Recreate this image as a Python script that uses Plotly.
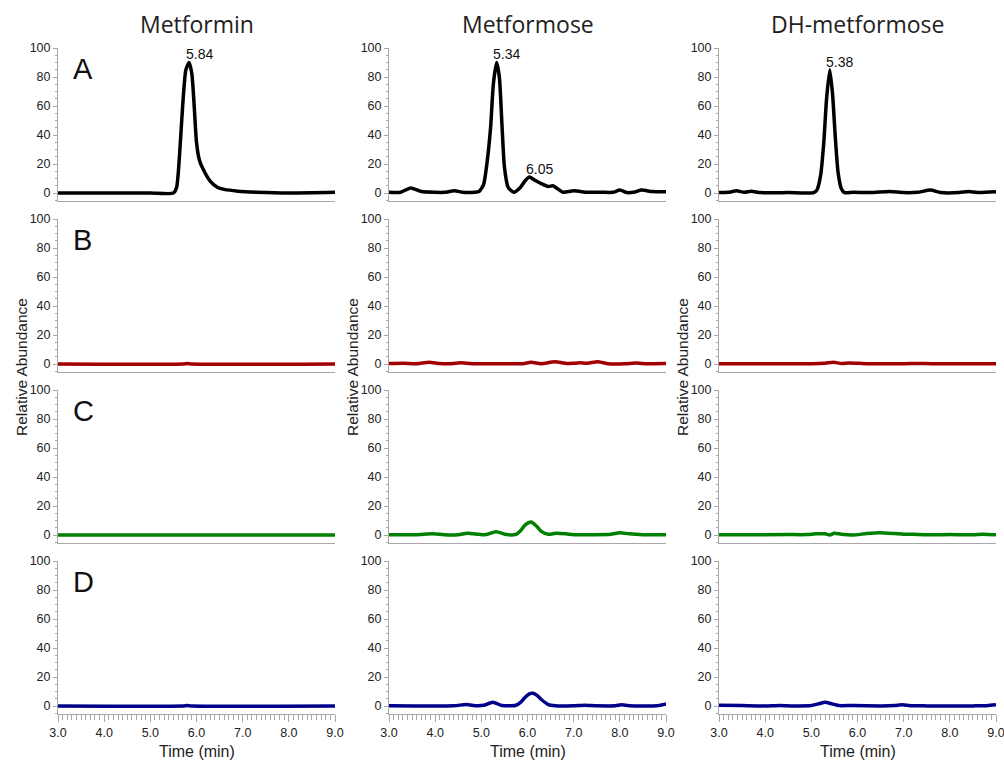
import plotly.graph_objects as go

# ---------------- DATA ----------------
compounds = ["Metformin", "Metformose", "DH-metformose"]
row_letters = ["A", "B", "C", "D"]
row_colors = ["#000000", "#a00000", "#008000", "#00008b"]
x_tick_vals = [3.0, 4.0, 5.0, 6.0, 7.0, 8.0, 9.0]
y_tick_vals = [0, 20, 40, 60, 80, 100]

# Row A (black)
t_A1 = [3.0, 4.0, 5.0, 5.5, 5.57, 5.63, 5.7, 5.77, 5.84, 5.9, 5.95, 6.0, 6.06, 6.15, 6.3, 6.45, 6.6, 6.9, 7.3, 8.0, 9.0]
v_A1 = [0, 0, 0, 0, 4, 25, 60, 85, 90, 82, 60, 35, 23, 16, 8, 4, 2.5, 1.3, 0.6, 0, 0.5]
t_A2 = [3.0, 3.25, 3.47, 3.7, 4.0, 4.2, 4.42, 4.6, 4.85, 4.95, 5.05, 5.12, 5.2, 5.26, 5.33, 5.39, 5.45, 5.5, 5.58, 5.7,
        5.85, 5.95, 6.04, 6.15, 6.3, 6.45, 6.55, 6.65, 6.77, 7.0, 7.3, 7.6, 7.85, 8.0, 8.15, 8.3, 8.47, 8.7, 9.0]
v_A2 = [0.5, 0.5, 3.5, 1.0, 0.5, 0.5, 1.5, 0.5, 0.5, 1, 6, 20, 45, 75, 90, 80, 45, 18, 4, 0.5,
        4, 8.5, 11, 9, 6.5, 4.5, 5, 3, 0.5, 1.5, 0.5, 0.5, 0.5, 2, 0.3, 0.5, 2, 1, 0.8]
t_A3 = [3.0, 3.2, 3.38, 3.55, 3.7, 3.9, 4.5, 5.05, 5.12, 5.2, 5.27, 5.33, 5.4, 5.46, 5.52, 5.58, 5.65, 5.72,
        5.9, 6.3, 6.7, 7.0, 7.3, 7.58, 7.8, 8.2, 8.4, 8.6, 9.0]
v_A3 = [0.3, 0.5, 1.5, 0.5, 1.2, 0.3, 0.3, 0.3, 2, 12, 35, 65, 85, 68, 38, 14, 3, 0.3,
        0.5, 0.3, 1.0, 0.3, 0.5, 2, 0.3, 0.3, 1, 0.3, 0.8]

# Row B (red)
t_B1 = [3.0, 5.7, 5.8, 5.9, 9.0]
v_B1 = [0, 0, 0.4, 0, 0]
t_B2 = [3.0, 3.3, 3.6, 3.87, 4.1, 4.35, 4.56, 4.8, 5.5, 5.9, 6.08, 6.3, 6.59, 6.85, 7.0, 7.13, 7.3, 7.52, 7.75, 8.1, 8.36, 8.6, 9.0]
v_B2 = [0.3, 0.5, 0.2, 1.2, 0.3, 0.2, 0.8, 0.2, 0.2, 0.2, 1.2, 0.2, 1.5, 0.3, 0.5, 0.8, 0.5, 1.6, 0.2, 0.2, 0.7, 0.2, 0.3]
t_B3 = [3.0, 4.5, 5.0, 5.3, 5.48, 5.65, 5.8, 5.95, 6.2, 7.0, 7.32, 7.6, 9.0]
v_B3 = [0.2, 0.2, 0.2, 0.6, 1.2, 0.4, 0.7, 0.6, 0.2, 0.2, 0.4, 0.2, 0.2]

# Row C (green)
t_C1 = [3.0, 9.0]
v_C1 = [0, 0]
t_C2 = [3.0, 3.6, 3.94, 4.2, 4.5, 4.7, 4.95, 5.1, 5.32, 5.55, 5.75, 5.85, 5.95, 6.08, 6.2, 6.3, 6.45, 6.62, 6.83, 7.0,
        7.4, 7.8, 8.0, 8.2, 8.5, 9.0]
v_C2 = [0.2, 0.2, 0.8, 0.2, 0.2, 1.2, 0.5, 0.3, 2.2, 0.3, 0.5, 3, 7, 9, 6, 2.5, 0.5, 1.2, 0.8, 0.2,
        0.2, 0.5, 1.6, 0.8, 0.2, 0.2]
t_C3 = [3.0, 4.5, 4.9, 5.1, 5.3, 5.4, 5.5, 5.65, 5.9, 6.2, 6.48, 6.8, 7.0, 7.2, 7.5, 8.0, 8.5, 8.72, 9.0]
v_C3 = [0.2, 0.3, 0.3, 0.8, 0.8, 0.0, 1.3, 0.5, 0.0, 1.0, 1.6, 1.0, 0.5, 0.6, 0.2, 0.3, 0.2, 0.6, 0.2]

# Row D (blue)
t_D1 = [3.0, 5.7, 5.8, 5.9, 9.0]
v_D1 = [0, 0, 0.3, 0, 0]
t_D2 = [3.0, 4.4, 4.67, 4.9, 5.05, 5.25, 5.45, 5.75, 5.85, 5.95, 6.05, 6.12, 6.2, 6.3, 6.45, 6.6, 7.0, 7.24, 7.5, 7.9,
        8.04, 8.2, 8.8, 9.0]
v_D2 = [0.2, 0.2, 1.0, 0.2, 0.5, 2.6, 0.3, 0.5, 2.5, 6, 8.5, 8.8, 7.5, 4.5, 1, 0.2, 0.2, 0.6, 0.2, 0.2,
        0.8, 0.2, 0.2, 1.5]
t_D3 = [3.0, 3.5, 4.0, 4.32, 4.6, 5.0, 5.15, 5.3, 5.45, 5.6, 5.9, 6.5, 6.8, 6.96, 7.15, 7.5, 8.5, 8.8, 9.0]
v_D3 = [0.5, 0.3, 0.1, 0.4, 0.1, 0.3, 1.5, 2.6, 1.5, 0.3, 0.4, 0.1, 0.3, 0.8, 0.2, 0.1, 0.1, 0.2, 0.8]

series = [
    [(t_A1, v_A1), (t_A2, v_A2), (t_A3, v_A3)],
    [(t_B1, v_B1), (t_B2, v_B2), (t_B3, v_B3)],
    [(t_C1, v_C1), (t_C2, v_C2), (t_C3, v_C3)],
    [(t_D1, v_D1), (t_D2, v_D2), (t_D3, v_D3)],
]

# Peak labels: (column, label text, peak time, peak height)
peak_labels = [(0, "5.84", 5.84, 90), (1, "5.34", 5.33, 90), (1, "6.05", 6.04, 11), (2, "5.38", 5.40, 85)]

# ---------------- LAYOUT ----------------
W, H = 1004, 764
col_px = [(58, 335), (389, 666), (719, 996)]
row_top, row_h, row_pitch = 48, 153, 171


def px_x(p):
    return p / W


def px_y(p):
    return 1 - p / H


fig = go.Figure()
layout = dict(
    width=W, height=H, autosize=False,
    margin=dict(l=0, r=0, t=0, b=0, pad=0),
    paper_bgcolor="white", plot_bgcolor="white",
    showlegend=False,
    font=dict(family="Liberation Sans, Arial, sans-serif", size=12, color="#222"),
)
annotations = []

for r in range(4):
    top = row_top + r * row_pitch
    bot = top + row_h
    ydom = [px_y(bot), px_y(top)]
    for c in range(3):
        i = r * 3 + c + 1
        xs = "" if i == 1 else str(i)
        t, v = series[r][c]
        fig.add_trace(go.Scatter(
            x=t, y=v, mode="lines",
            line=dict(color=row_colors[r], width=3.5, shape="spline", smoothing=0.6),
            xaxis="x" + xs, yaxis="y" + xs, hoverinfo="skip"))
        xdom = [px_x(col_px[c][0]), px_x(col_px[c][1])]
        xa = dict(domain=xdom, range=[3, 9], anchor="y" + xs, showgrid=False, zeroline=False,
                  automargin=False, showline=True, linecolor="#a8a8a8", linewidth=1)
        if r == 3:
            xa.update(ticks="outside", tickvals=x_tick_vals, tickformat=".1f", ticklen=7,
                      tickcolor="#a8a8a8", tickwidth=1, ticklabeloverflow="allow",
                      minor=dict(dtick=0.1, tick0=3.0, ticks="outside", ticklen=5, tickcolor="#a8a8a8", tickwidth=1),
                      tickfont=dict(size=12.5, color="#222"))
        else:
            xa.update(showticklabels=False, ticks="")
        ya = dict(domain=ydom, range=[-5.5, 100], anchor="x" + xs, showgrid=False, zeroline=False,
                  automargin=False, showline=True, linecolor="#a8a8a8", linewidth=1,
                  ticks="outside", tickvals=y_tick_vals, ticklen=4, tickcolor="#a8a8a8", tickwidth=1,
                  minor=dict(dtick=5, tick0=0, ticks="outside", ticklen=2, tickcolor="#a8a8a8", tickwidth=1),
                  tickfont=dict(size=12.5, color="#222"))
        layout["xaxis" + xs] = xa
        layout["yaxis" + xs] = ya

    # panel letter
    annotations.append(dict(text=row_letters[r], x=px_x(col_px[0][0] + 13), y=px_y(top + 3),
                            xref="paper", yref="paper", xanchor="left", yanchor="top", showarrow=False,
                            font=dict(family="Liberation Sans, Arial, sans-serif", size=29, color="#111")))

for c in range(3):
    cx = (col_px[c][0] + col_px[c][1]) / 2
    annotations.append(dict(text=compounds[c], x=px_x(cx), y=px_y(24), xref="paper", yref="paper",
                            xanchor="center", yanchor="middle", showarrow=False,
                            font=dict(family="Open Sans, sans-serif", size=23, color="#222")))
    annotations.append(dict(text="Time (min)", x=px_x(cx), y=px_y(751), xref="paper", yref="paper",
                            xanchor="center", yanchor="middle", showarrow=False,
                            font=dict(family="Liberation Sans, Arial, sans-serif", size=16, color="#222")))
    annotations.append(dict(text="Relative Abundance", x=px_x(col_px[c][0] - 37), y=px_y(367),
                            xref="paper", yref="paper", xanchor="center", yanchor="middle",
                            showarrow=False, textangle=-90,
                            font=dict(family="Liberation Sans, Arial, sans-serif", size=15.5, color="#222")))

for c, txt, pt, pv in peak_labels:
    xs = "" if c == 0 else str(c + 1)
    annotations.append(dict(text=txt, x=pt, y=pv, xref="x" + xs, yref="y" + xs,
                            xanchor="center", yanchor="bottom", xshift=10, yshift=-2, showarrow=False,
                            font=dict(family="Liberation Sans, Arial, sans-serif", size=14, color="#111")))

layout["annotations"] = annotations
fig.update_layout(**layout)

fig.write_html("out.html", config={"displayModeBar": False},
               post_script="document.body.style.margin='0';")
